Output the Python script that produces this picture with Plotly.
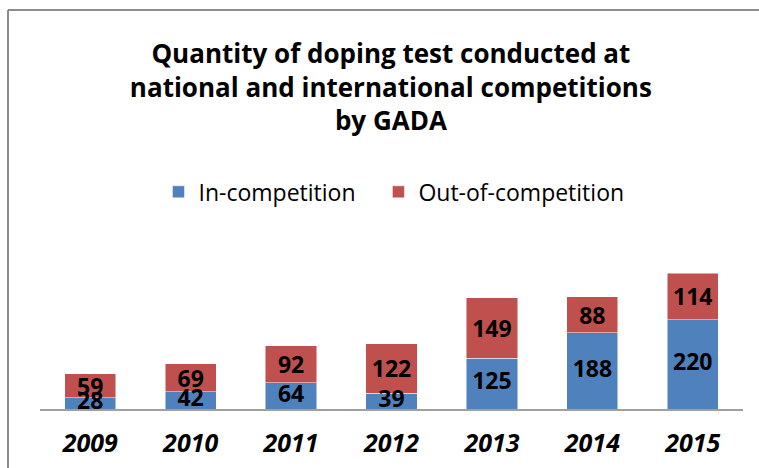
import plotly.graph_objects as go

years = ["2009", "2010", "2011", "2012", "2013", "2014", "2015"]
in_competition = [28, 42, 64, 39, 125, 188, 220]
out_competition = [59, 69, 92, 122, 149, 88, 114]

FONT = "Open Sans, Liberation Sans, sans-serif"
BLUE = "#4F81BD"
RED = "#C0504D"
label_font = dict(family=FONT, size=23, color="black", weight="bold")

fig = go.Figure()

# the non-breaking spaces widen the gap between the two legend entries
fig.add_trace(go.Bar(
    x=years, y=in_competition, name="In-competition\u00a0\u00a0\u00a0",
    marker=dict(color=BLUE, line=dict(color="rgba(255,255,255,0.6)", width=0.8)),
))
fig.add_trace(go.Bar(
    x=years, y=out_competition, name="Out-of-competition",
    marker=dict(color=RED, line=dict(color="rgba(255,255,255,0.6)", width=0.8)),
    text=out_competition, textposition="inside", insidetextanchor="middle",
    textangle=0, constraintext="none", textfont=label_font,
))
# in-competition labels as a text layer so the red bars don't cover them
fig.add_trace(go.Scatter(
    x=years, y=[v / 2 for v in in_competition], mode="text",
    text=[str(v) for v in in_competition], textposition="middle center",
    textfont=label_font, showlegend=False, hoverinfo="skip", cliponaxis=False,
))

# outer chart frame: only the left and top edges show in the source
frame = dict(color="#8C8C8C", width=2)
fig.add_shape(type="line", xref="paper", yref="paper",
              x0=-0.0455, x1=-0.0455, y0=-0.5, y1=2.229, line=frame)
fig.add_shape(type="line", xref="paper", yref="paper",
              x0=-0.0455, x1=1.1, y0=2.229, y1=2.229, line=frame)

fig.update_layout(
    width=759, height=468,
    barmode="stack", bargap=0.49,
    paper_bgcolor="white", plot_bgcolor="white",
    margin=dict(l=40, r=16, t=230, b=59),
    title=dict(
        text="<b>Quantity of doping test conducted at<br>national and international competitions<br>by GADA</b>",
        x=0.515, xref="container", xanchor="center",
        y=0.866, yref="container", yanchor="top",
        font=dict(family=FONT, size=26, color="black"),
    ),
    legend=dict(
        orientation="h", x=0.2088, xanchor="left", xref="container",
        y=0.59, yanchor="middle", yref="container",
        font=dict(family=FONT, size=23, color="black"),
        traceorder="normal",
    ),
    xaxis=dict(
        showline=True, linecolor="#A0A0A0", linewidth=2,
        ticks="", showgrid=False, ticklabelstandoff=11, automargin=False,
        tickfont=dict(family=FONT, size=25, color="black", weight="bold", style="italic"),
    ),
    yaxis=dict(range=[0, 440], visible=False, showgrid=False),
)

# drop the browser's default page margin so the figure sits at the window corner
fig.write_html("out.html", config={"displayModeBar": False},
               post_script="document.body.style.margin='0';document.body.style.overflow='hidden';")
